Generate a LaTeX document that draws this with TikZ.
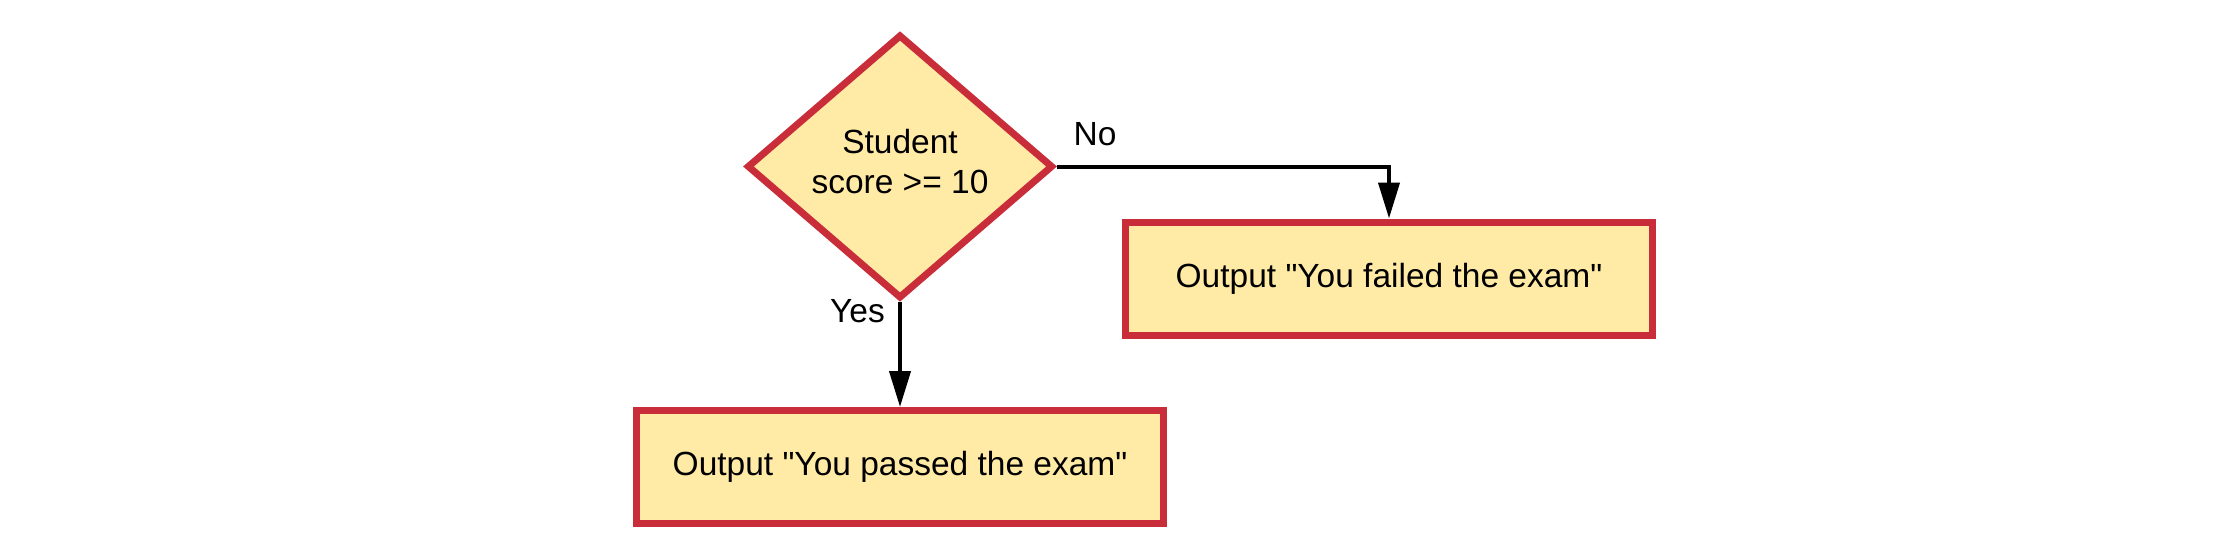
\documentclass[tikz,border=0pt]{standalone}
\usepackage{fontspec}
\setmainfont{Liberation Sans}
\usetikzlibrary{shapes.geometric,arrows.meta}
\definecolor{boxred}{HTML}{C92D39}
\definecolor{boxfill}{HTML}{FFEBA6}
\begin{document}
\begin{tikzpicture}[x=1pt,y=-1pt,
  font=\fontsize{33.5}{40}\selectfont,
  >={Triangle[length=36pt,width=21pt]},
  decision/.style={diamond,draw=boxred,fill=boxfill,line width=7pt,inner sep=0pt,
    minimum width=306pt,minimum height=264pt,align=center,text depth=11pt},
  outbox/.style={rectangle,draw=boxred,fill=boxfill,line width=7pt,
    minimum width=527pt,minimum height=113pt},
  conn/.style={line width=4pt,->}]
\useasboundingbox (0,0) rectangle (2237,549);
\node[decision] (score) at (900,166.5) {Student\\score >= 10};
\node[outbox] (fail) at (1389,278.5) {Output \textquotedbl You failed the exam\textquotedbl};
\node[outbox] (pass) at (900,467) {Output \textquotedbl You passed the exam\textquotedbl};
\node (no) at (1095,134) {No};
\node (yes) at (857.5,311) {Yes};
\draw[conn] (score.east) -| (fail.north);
\draw[conn] (score.south) -- (pass.north);
\end{tikzpicture}
\end{document}
